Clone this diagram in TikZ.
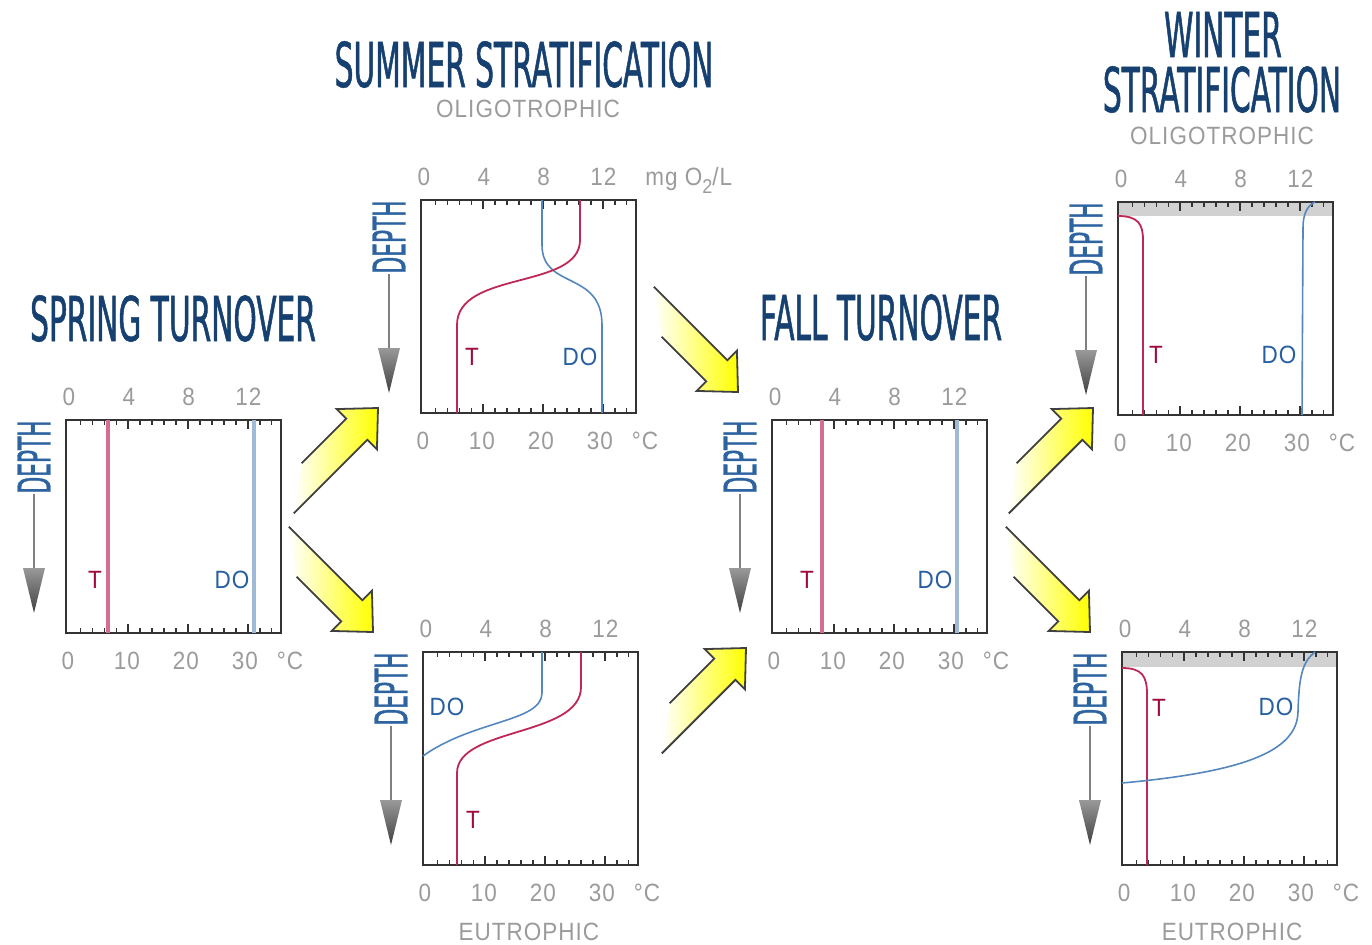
\documentclass[tikz,border=0pt]{standalone}
\usepackage{fontspec}
\usepackage{tikz}
\newfontfamily\titlefont[FakeStretch=0.48,FakeBold=0.8]{DejaVu Sans}
\newfontfamily\lblfont[FakeStretch=0.9,LetterSpace=4]{Liberation Sans}
\definecolor{ttlblue}{RGB}{22,64,112}
\definecolor{dpblue}{RGB}{45,100,160}
\definecolor{lblgray}{RGB}{155,155,155}
\definecolor{tred}{RGB}{190,40,85}
\definecolor{tlight}{RGB}{212,110,145}
\definecolor{tdark}{RGB}{160,10,60}
\definecolor{doblue}{RGB}{85,135,190}
\definecolor{dolight}{RGB}{160,185,215}
\definecolor{dodark}{RGB}{40,95,160}
\definecolor{arrowyellow}{RGB}{255,255,0}

\tikzset{
  frame/.style={draw=black!80, line width=1pt},
  tick/.style={black!80, line width=0.8pt},
  lbl/.style={inner sep=0, text=lblgray, font=\lblfont\fontsize{12.5}{14}\selectfont},
  ttl/.style={inner sep=0, anchor=base, text=ttlblue, font=\titlefont\fontsize{30.9}{34}\selectfont},
  depthlbl/.style={inner sep=0, rotate=90, anchor=east, text=dpblue, font=\titlefont\fontsize{22.6}{24}\selectfont},
  % one chart: box, scales and the depth arrow
  chart/.pic={
    \draw[frame] (0,0) rectangle (215,213);
    \foreach \k in {1,...,17}{
      \pgfmathsetmacro\tl{mod(\k,5)==0 ? 9 : 5}
      \draw[tick] ({2.5+11.95*\k},0) -- ++(0,\tl);
      \draw[tick] ({2.5+11.95*\k},213) -- ++(0,-\tl);
    }
    \foreach \v [count=\i from 0] in {0,4,8,12}
      \node[lbl, anchor=base] (-top\i) at ({3+59.8*\i},-15) {\v};
    \foreach \v [count=\i from 0] in {0,10,20,30}
      \node[lbl, anchor=base] (-bot\i) at ({2+59*\i},249) {\v};
    \node[lbl, anchor=base] (-unit) at (224,249) {°C};
    \node[depthlbl] (-depth) at (-32,0) {DEPTH};
    \coordinate (-down) at (-32,150);
    \draw[black!50, line width=0.8pt] (-depth.west) -- (-down);
    \shade[top color=black!40, bottom color=black!75] (-43,148) -- (-21,148) -- (-32,193) -- cycle;
  },
  % yellow block arrow, tip at the origin
  flow/.pic={
    \shade[left color=white, middle color=arrowyellow!40!white, right color=arrowyellow]
      (-134,15) -- (-30,15) -- (-30,28.5) -- (0,0) -- (-30,-28.5) -- (-30,-15) -- (-93,-15) -- cycle;
    \draw[black!75, line width=0.9pt, line join=miter]
      (-93,-15) -- (-30,-15) -- (-30,-28.5) -- (0,0) -- (-30,28.5) -- (-30,15) -- (-134,15);
  }
}

\begin{document}
\begin{tikzpicture}[x=0.5pt, y=-0.5pt,
  tflat/.style={draw=tlight, line width=2pt},
  doflat/.style={draw=dolight, line width=2pt},
  tcurve/.style={draw=tred, line width=0.9pt},
  docurve/.style={draw=doblue, line width=0.8pt},
  tlbl/.style={lbl, text=tdark},
  dolbl/.style={lbl, text=dodark},
  ice/.style={fill=black!18}]
\useasboundingbox (0,0) rectangle (1372,944);

% titles
\node[ttl] (summer) at (524,87) {SUMMER STRATIFICATION};
\node[lbl, anchor=base] (summeroligo) at (528,117) {OLIGOTROPHIC};
\node[ttl] (spring) at (173,341) {SPRING TURNOVER};
\node[ttl] (fall) at (881,340) {FALL TURNOVER};
\node[ttl] (winter) at (1223,57) {WINTER};
\node[ttl] (winterstrat) at (1222,112) {STRATIFICATION};
\node[lbl, anchor=base] (winteroligo) at (1222,144) {OLIGOTROPHIC};
\node[lbl, anchor=base] (summereutro) at (529,940) {EUTROPHIC};
\node[lbl, anchor=base] (wintereutro) at (1232,940) {EUTROPHIC};
\node[lbl, anchor=base west] (unitmg) at (645,185) {mg O\raisebox{-4pt}{\fontsize{10}{10}\selectfont 2}/L};

% ice cover
\fill[ice] (1118,202) rectangle ++(215,14);
\fill[ice] (1122,652) rectangle ++(215,15);

% charts
\pic (sp) at (66,420) {chart};
\pic (so) at (421,200) {chart};
\pic (se) at (423,652) {chart};
\pic (fa) at (772,420) {chart};
\pic (wo) at (1118,202) {chart};
\pic (we) at (1122,652) {chart};

% spring turnover
\begin{scope}[shift={(66,420)}]
\draw[tflat] (42,0) -- (42,213);
\draw[doflat] (188,0) -- (188,213);
\node[tlbl] (spT) at (29,160) {T};
\node[dolbl] (spDO) at (166,160) {DO};
\end{scope}

% summer, oligotrophic
\begin{scope}[shift={(421,200)}]
\draw[docurve] (121,0) -- (121,45) .. controls (121,90) and (181,70) .. (181,125) -- (181,213);
\draw[tcurve] (159,0) -- (159,40) .. controls (159,90) and (36,70) .. (36,125) -- (36,213);
\node[tlbl] (soT) at (51,157) {T};
\node[dolbl] (soDO) at (159,157) {DO};
\end{scope}

% summer, eutrophic
\begin{scope}[shift={(423,652)}]
\draw[docurve] (119,0) -- (119,41) .. controls (119,70) and (50,68) .. (0,104);
\draw[tcurve] (158,0) -- (158,35) .. controls (158,85) and (34,75) .. (34,121) -- (34,213);
\node[tlbl] (seT) at (50,168) {T};
\node[dolbl] (seDO) at (24,55) {DO};
\end{scope}

% fall turnover
\begin{scope}[shift={(772,420)}]
\draw[tflat] (50,0) -- (50,213);
\draw[doflat] (185,0) -- (185,213);
\node[tlbl] (faT) at (35,160) {T};
\node[dolbl] (faDO) at (163,160) {DO};
\end{scope}

% winter, oligotrophic
\begin{scope}[shift={(1118,202)}]
\draw[tcurve] (0,14) .. controls (20,14) and (25,22) .. (25,38) -- (25,213);
\draw[docurve] (197,0) .. controls (189,4) and (185,12) .. (185,26) -- (184,213);
\node[tlbl] (woT) at (38,153) {T};
\node[dolbl] (woDO) at (161,153) {DO};
\end{scope}

% winter, eutrophic
\begin{scope}[shift={(1122,652)}]
\draw[tcurve] (0,16) .. controls (20,16) and (25,24) .. (25,42) -- (25,213);
\draw[docurve] (193,0) .. controls (180,10) and (177,25) .. (176,60) .. controls (175,100) and (120,120) .. (0,131);
\node[tlbl] (weT) at (37,56) {T};
\node[dolbl] (weDO) at (154,55) {DO};
\end{scope}

% seasonal arrows
\coordinate (a1) at (378,408);
\coordinate (a2) at (373,632);
\coordinate (a3) at (738,392);
\coordinate (a4) at (746,648);
\coordinate (a5) at (1093,408);
\coordinate (a6) at (1090,632);
\pic[rotate=45] at (a1) {flow};
\pic[rotate=-45, yscale=-1] at (a2) {flow};
\pic[rotate=-45, yscale=-1] at (a3) {flow};
\pic[rotate=45] at (a4) {flow};
\pic[rotate=45] at (a5) {flow};
\pic[rotate=-45, yscale=-1] at (a6) {flow};
\end{tikzpicture}
\end{document}
